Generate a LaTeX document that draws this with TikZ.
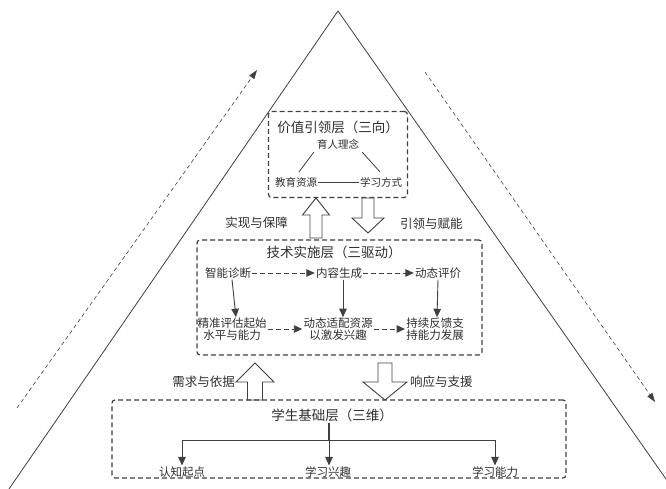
\documentclass[tikz,border=0pt]{standalone}
\usepackage{fontspec}
\setmainfont{Noto Sans CJK SC}
\usetikzlibrary{arrows.meta}
\definecolor{ink}{HTML}{2E2E2E}
\definecolor{ln}{HTML}{404040}
\newcommand\blkarrow[6]{% x, ytail, ytip, shaft half, head half, head length
  \pgfmathsetmacro\hb{#3+((#2>#3)?1:-1)*#6}%
  \draw[blk] (#1-#4,#2) -- (#1-#4,\hb) -- (#1-#5,\hb) -- (#1,#3) -- (#1+#5,\hb) -- (#1+#4,\hb) -- (#1+#4,#2) -- cycle;}
\begin{document}
\begin{tikzpicture}[x=1pt,y=-1pt,
  every node/.style={text=ink},
  layerbox/.style={draw=ln, line width=1.2pt, dash pattern=on 5pt off 3pt, rounded corners=3pt, inner sep=0pt},
  ttl/.style={font=\fontsize{13.5}{15}\selectfont, inner sep=1pt},
  itm/.style={font=\fontsize{11.5}{13.5}\selectfont, inner sep=1pt, align=center},
  sm/.style={font=\fontsize{10.5}{12}\selectfont, inner sep=1pt},
  lbl/.style={font=\fontsize{12.5}{14}\selectfont, inner sep=1pt},
  blk/.style={draw=ln, line width=0.9pt, fill=white},
  tip/.style={-{Triangle[width=7.5pt,length=8.5pt]}, draw=ln, line width=0.9pt},
  dtip/.style={tip, dash pattern=on 5pt off 3pt},
  side/.style={draw=ln, line width=0.6pt, dash pattern=on 4pt off 3pt, -{Triangle[width=6pt,length=9pt]}}
]
\useasboundingbox (0,0) rectangle (666,489);
\begin{scope}
\clip (0,0) rectangle (666,489);
\coordinate (apex) at (338,11);
\coordinate (bl) at (9,489);
\coordinate (br) at (673,489);
\draw[ln, line width=0.8pt] (bl) -- (apex) -- (br);
\end{scope}
% side dashed arrows
\coordinate (ls) at (17,408); \coordinate (le) at (257,70);
\coordinate (rs) at (425,72); \coordinate (re) at (655,402);
\draw[side] (ls) -- (le);
\draw[side] (rs) -- (re);

% top layer
\node[layerbox, minimum width=139pt, minimum height=86pt] (vbox) at (338,154.5) {};
\node[ttl] (vt) at (338,127) {价值引领层（三向）};
\node[sm] (v1) at (338,144) {育人理念};
\node[sm] (v2) at (296,182) {教育资源};
\node[sm] (v3) at (381,182) {学习方式};
\draw[ln, line width=0.8pt] (v1.south west) ++(-2,2) -- ([xshift=3pt,yshift=4pt]v2.north);
\draw[ln, line width=0.8pt] (v1.south east) ++(2,2) -- ([xshift=-1pt,yshift=4pt]v3.north);
\draw[ln, line width=0.8pt] (v2) -- (v3);

% block arrows top
\blkarrow{316}{238}{198}{6}{13.5}{17}
\blkarrow{368}{198}{233}{6}{16}{15}
\node[lbl, anchor=east] (a1) at (289,223) {实现与保障};
\node[lbl, anchor=west] (a2) at (399,224) {引领与赋能};

% tech layer
\node[layerbox, minimum width=285pt, minimum height=115pt] (tbox) at (339.5,297.5) {};
\node[ttl] (tt) at (334,252) {技术实施层（三驱动）};
\node[itm] (t1) at (228,273) {智能诊断};
\node[itm] (t2) at (339,273) {内容生成};
\node[itm] (t3) at (438,273) {动态评价};
\node[itm] (b1) at (232,329) {精准评估起始\\[-1pt]水平与能力};
\node[itm] (b2) at (338,329) {动态适配资源\\[-1pt]以激发兴趣};
\node[itm] (b3) at (435,329) {持续反馈支\\[-1pt]持能力发展};
\draw[dtip] (t1) -- (t2);
\draw[dtip] (t2) -- (t3);
\draw[dtip] (b1) -- (b2);
\draw[dtip] (b2) -- (b3);
\draw[tip] ([xshift=4pt]t1.south) -- ([xshift=4pt,yshift=-1pt]b1.north);
\draw[tip] ([xshift=4pt]t2.south) -- ([xshift=5pt,yshift=-1pt]b2.north);
\draw[tip] (t3.south) -- ([xshift=2pt,yshift=-1pt]b3.north);

% block arrows bottom
\blkarrow{255}{400}{363}{7.5}{19}{19}
\blkarrow{385}{363}{400}{7}{22}{18}
\node[lbl, anchor=east] (a3) at (236,382) {需求与依据};
\node[lbl, anchor=west] (a4) at (409,382) {响应与支援};

% student layer
\node[layerbox, minimum width=454pt, minimum height=78pt] (sbox) at (339,439) {};
\node[ttl] (st) at (332,415) {学生基础层（三维）};
\node[itm] (s1) at (182,472) {认知起点};
\node[itm] (s2) at (328,472) {学习兴趣};
\node[itm] (s3) at (495,472) {学习能力};
\coordinate (jn) at (329,440);
\draw[ln, line width=1.4pt] ([xshift=-3pt]st.south) -- (jn);
\draw[tip] (jn) -| (s1.north);
\draw[tip] (jn) -| (s3.north);
\draw[tip] (jn) -- (s2.north -| jn);
\end{tikzpicture}
\end{document}
